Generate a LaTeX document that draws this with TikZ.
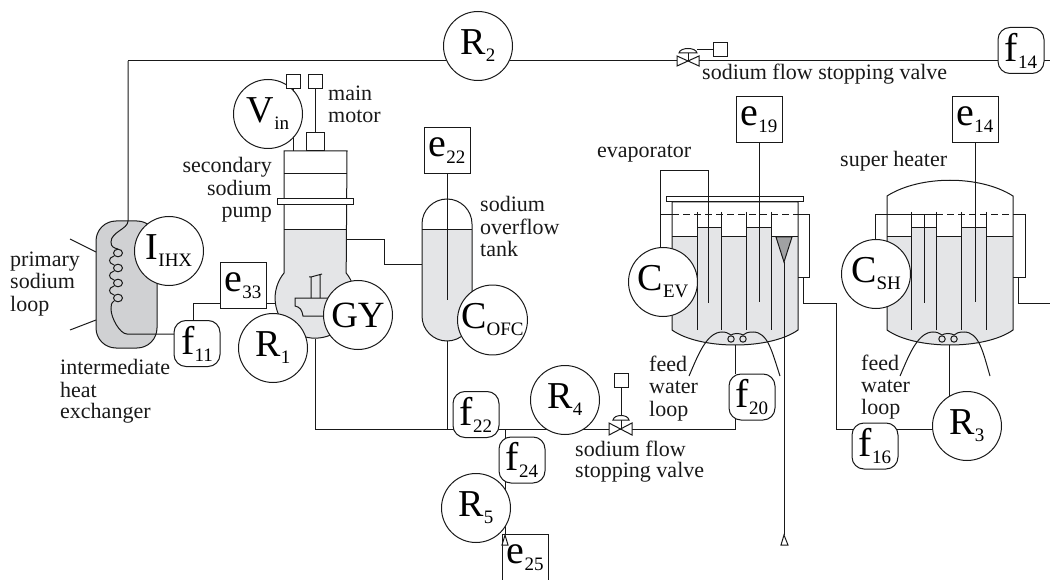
\documentclass[tikz,border=0pt]{standalone}
\usepackage{fontspec}
\setmainfont{Liberation Serif}
\usetikzlibrary{backgrounds}
\definecolor{liq}{RGB}{228,229,231}
\definecolor{ihxgray}{RGB}{208,209,211}
\definecolor{fungray}{RGB}{160,161,163}
\newcommand\lab[2]{{\fontsize{38}{38}\selectfont #1}{\fontsize{19}{19}\selectfont\raisebox{-7pt}{#2}}}
\newcommand\labs[2]{{\fontsize{40}{40}\selectfont #1}{\fontsize{19}{19}\selectfont\raisebox{-7pt}{#2}}}
\tikzset{
  ln/.style={draw=black!90,line width=1pt},
  circ/.style={circle,ln,fill=white,minimum size=69pt,inner sep=0pt},
  ebox/.style={rectangle,ln,fill=white,minimum size=46pt,inner sep=0pt},
  fbox/.style={rectangle,rounded corners=12pt,ln,fill=white,minimum size=46pt,inner sep=0pt},
  sbox/.style={rectangle,ln,fill=white,minimum size=14pt,inner sep=0pt},
  txt/.style={anchor=base west,inner sep=0pt,font=\fontsize{22}{22}\selectfont,text=black!90},
  txr/.style={anchor=base east,inner sep=0pt,font=\fontsize{22}{22}\selectfont,text=black!90},
  dash pipe/.style={ln,dash pattern=on 7pt off 4pt}
}
\begin{document}
\begin{tikzpicture}[x=1pt,y=-1pt]
\useasboundingbox (0,0) rectangle (1050,580);
% instrument nodes
\node[circ] (R2) at (478,46) {\lab{R}{2}};
\node[circ] (Vin) at (268,114) {\lab{V}{in}};
\node[circ] (IIHX) at (169,251) {\lab{I}{IHX}};
\node[circ] (R1) at (273,348) {\lab{R}{1}};
\node[circ] (GY) at (358,315) {{\fontsize{37}{37}\selectfont GY}};
\node[circ] (COFC) at (492.5,320) {\lab{C}{OFC}};
\node[circ] (CEV) at (663,282) {\lab{C}{EV}};
\node[circ] (CSH) at (876,274) {\lab{C}{SH}};
\node[circ] (R3) at (967,426) {\lab{R}{3}};
\node[circ] (R4) at (565,400) {\lab{R}{4}};
\node[circ] (R5) at (476,508) {\lab{R}{5}};
\node[ebox] (e22) at (447,151) {\labs{e}{22}};
\node[ebox] (e19) at (759,120) {\labs{e}{19}};
\node[ebox] (e14) at (975,120) {\labs{e}{14}};
\node[ebox] (e33) at (243,285.5) {\labs{e}{33}};
\node[fbox] (f14) at (1021,50.5) {\labs{f}{14}};
\node[fbox] (f11) at (197,343.5) {\labs{f}{11}};
\node[fbox] (f22) at (476,414.5) {\labs{f}{22}};
\node[fbox] (f24) at (522,460) {\labs{f}{24}};
\node[fbox] (f20) at (752,397) {\labs{f}{20}};
\node[fbox] (f16) at (875,446) {\labs{f}{16}};
\node[sbox] (mA) at (293,82) {};
\node[sbox] (mB) at (315,82) {};
\node[rectangle,ln,fill=white,minimum width=18pt,minimum height=18pt,inner sep=0pt] (motor) at (315,142) {};
\node[sbox] (vTop) at (720,50) {};
\node[sbox] (vBot) at (621,380) {};
% junction coordinates
\coordinate (topc) at (128,61);
\coordinate (ihxin) at (128,221);
\coordinate (rt) at (1050,61);
\coordinate (vt) at (688,61);
\coordinate (vb) at (621,429);
\coordinate (pumpbot) at (315,339);
\coordinate (mainc) at (315,429);
\coordinate (j505) at (505,429);
\coordinate (tankbot) at (447,341);
\coordinate (tankin) at (422,265);
\coordinate (pumpout) at (347,240);
\coordinate (evbot) at (735,345);
\coordinate (shbot) at (949,345);
\coordinate (evout) at (803,278);
\coordinate (shout) at (1018,278);
\coordinate (drain) at (784,535);
\coordinate (funnel) at (784,262);
\coordinate (e25top) at (505,535);
\begin{scope}[on background layer]
  % IHX
  \draw[ln,fill=ihxgray,rounded corners=20pt] (96,221) rectangle (157,348);
  \draw[ln] (70,239) -- (96,252);
  \draw[ln] (70,330) -- (96,320);
  \draw[ln] (128,61) -- (128,221) .. controls (128,229) and (111,232) .. (111,242)
     .. controls (111,247) and (114,248) .. (118,249);
  \foreach \yy in {253,268,283,298} \draw[ln] (118,\yy) ellipse [x radius=4.5pt,y radius=3.8pt];
  \draw[ln] (114,256) .. controls (108,258) and (108,263) .. (114,265);
  \draw[ln] (114,271) .. controls (108,273) and (108,278) .. (114,280);
  \draw[ln] (114,286) .. controls (108,288) and (108,293) .. (114,295);
  \draw[ln] (114,301) .. controls (111,303) and (111,306) .. (111,309)
     .. controls (111,318) and (120,334) .. (127,334) -- (197,334);
  % pump
  \fill[liq] (284,230) -- (284,273) arc[start angle=141,end angle=399,radius=40pt] -- (347,230) -- cycle;
  \draw[ln] (284,151) -- (284,273) arc[start angle=141,end angle=399,radius=40pt] -- (347,151) -- cycle;
  \draw[ln] (284,174) -- (347,174);
  \draw[ln] (284,230) -- (347,230);
  \draw[ln,fill=white] (277,199) rectangle (353,205);
  \draw[ln] (311,298) -- (311,277) -- (309,277) (311,277) -- (322,274) (320,275) -- (320,298);
  \draw[ln] (330,298) -- (295,298) -- (295,306) .. controls (300,307) and (302,310) .. (303,316) -- (335,316);
  \draw[ln] (293,89) -- (293,151);
  \draw[ln] (mB) -- (motor);
  \draw[ln] (pumpout) -- (384,240) -- (384,265) -- (tankin);
  \draw[ln] (pumpbot) -- (mainc) -- (735,429) -- (735,400);
  \draw[ln] (evbot) -- (735,374);
  \draw[ln] (193,334) -- (193,303) -- (220,303);
  \draw[ln] (266,303) -- (276,303);
  % tank
  \begin{scope}
    \clip[rounded corners=25pt] (422,199) rectangle (472,341);
    \fill[liq] (422,230) rectangle (472,341);
  \end{scope}
  \draw[ln,rounded corners=25pt] (422,199) rectangle (472,341);
  \draw[ln] (422,230) -- (472,230);
  \draw[ln] (e22) -- (447,300);
  \draw[ln] (tankbot) -- (447,429);
  \draw[ln] (j505) -- (e25top);
  % top line and valve
  \draw[ln] (topc) -- (rt);
  % evaporator
  \fill[liq] (672,237) -- (697,237) -- (697,228) -- (721,228) -- (721,237) -- (746,237) -- (746,228) -- (771,228) -- (771,237) -- (798,237) -- (798,330) .. controls (770,350) and (700,350) .. (672,330) -- cycle;
  \draw[ln] (672,237) -- (697,237) -- (697,228) -- (721,228) -- (721,237) -- (746,237) -- (746,228) -- (771,228) -- (771,237) -- (798,237);
  \draw[ln] (672,202) -- (672,330) .. controls (700,350) and (770,350) .. (798,330) -- (798,202) -- cycle;
  \draw[ln,fill=white] (666,197) rectangle (803,202);
  \foreach \xx in {697,721,746,771} \draw[ln] (\xx,212) -- (\xx,330);
  \draw[ln] (660,215) -- (672,215);
  \draw[dash pipe] (672,215) -- (798,215);
  \draw[ln] (798,215) -- (809,215) -- (809,278) -- (798,278);
  \draw[ln] (660,215) -- (660,250);
  \draw[ln] (660,215) -- (660,171) -- (708,171) -- (708,303);
  \draw[ln] (e19) -- (759,302);
  \draw[ln,fill=fungray] (776,237) -- (792,237) -- (funnel) -- cycle;
  \draw[ln] (funnel) -- (drain);
  \draw[ln] (evout) -- (803,303) -- (836,303) -- (836,429) -- (967,429);
  % feed loops evaporator
  \draw[ln] (689,376) .. controls (697,358) and (706,332) .. (722,332) .. controls (726,332) and (728,333) .. (731,335)
     (743,335) .. controls (745,333) and (748,332) .. (753,332) .. controls (768,332) and (772,352) .. (780,376);
  \draw[ln] (731,335) .. controls (734,333) and (740,333) .. (743,335);
  \draw[ln] (731,339) circle [radius=3.2pt];
  \draw[ln] (743,339) circle [radius=3.2pt];
  % super heater
  \fill[liq] (887,237) -- (911,237) -- (911,228) -- (936,228) -- (936,237) -- (961,237) -- (961,228) -- (986,228) -- (986,237) -- (1013,237) -- (1013,330) .. controls (985,350) and (915,350) .. (887,330) -- cycle;
  \draw[ln] (887,237) -- (911,237) -- (911,228) -- (936,228) -- (936,237) -- (961,237) -- (961,228) -- (986,228) -- (986,237) -- (1013,237);
  \draw[ln] (887,330) .. controls (915,350) and (985,350) .. (1013,330) -- (1013,196) .. controls (980,175) and (920,175) .. (887,196) -- cycle;
  \foreach \xx in {911,936,961,986} \draw[ln] (\xx,212) -- (\xx,330);
  \draw[ln] (875,240) -- (875,215) -- (936,215);
  \draw[dash pipe] (936,215) -- (1013,215);
  \draw[ln] (1013,215) -- (1025,215) -- (1025,278) -- (1013,278);
  \draw[ln] (924,215) -- (924,303);
  \draw[ln] (e14) -- (975,302);
  \draw[ln] (shout) -- (1018,303) -- (1050,303);
  \draw[ln] (shbot) -- (949,400);
  \draw[ln] (900,376) .. controls (908,358) and (917,332) .. (933,332) .. controls (937,332) and (939,333) .. (942,335)
     (954,335) .. controls (956,333) and (959,332) .. (964,332) .. controls (979,332) and (983,352) .. (990,376);
  \draw[ln] (942,335) .. controls (945,333) and (951,333) .. (954,335);
  \draw[ln] (942,339) circle [radius=3.2pt];
  \draw[ln] (954,339) circle [radius=3.2pt];
\end{scope}
% e25 box, open at the foot of the picture
\node[rectangle,fill=white,minimum width=46pt,minimum height=46pt,inner sep=0pt,anchor=north west] (e25) at (502,534) {\labs{e}{25}};
\draw[ln] (e25.south west) -- (e25.north west) -- (e25.north east) -- (e25.south east);
\draw[ln,fill=white] (e25top) -- (502,545) -- (508,545) -- cycle;
\draw[ln,fill=white] (drain) -- (781,545) -- (788,545) -- cycle;
% top valve
\draw[ln,fill=white] (677,56) -- (699,66) -- (699,56) -- (677,66) -- cycle;
\draw[ln] (vt) -- (688,53);
\draw[ln,fill=white] (679,53) .. controls (680,47) and (696,47) .. (697,53) -- cycle;
\draw[ln] (697,50) -- (vTop);
% bottom valve
\draw[ln,fill=white] (609,423) -- (632,435) -- (632,423) -- (609,435) -- cycle;
\draw[ln] (vb) -- (vBot);
\draw[ln,fill=white] (613,420) .. controls (614,414) and (628,414) .. (629,420) -- cycle;
% text
\node[txt] (t1) at (328,101) {main};
\node[txt] (t2) at (328,123) {motor};
\node[txr] (t3) at (272,173) {secondary};
\node[txr] (t4) at (272,196) {sodium};
\node[txr] (t5) at (272,218) {pump};
\node[txt] (t6) at (10,266) {primary};
\node[txt] (t7) at (10,288) {sodium};
\node[txt] (t8) at (10,311) {loop};
\node[txt] (t9) at (60,374) {intermediate};
\node[txt] (t10) at (60,397) {heat};
\node[txt] (t11) at (60,418) {exchanger};
\node[txt] (t12) at (480,212) {sodium};
\node[txt] (t13) at (480,235) {overflow};
\node[txt] (t14) at (480,257) {tank};
\node[txt] (t15) at (597,158) {evaporator};
\node[txt] (t16) at (840,167) {super heater};
\node[txt] (t17) at (649,371) {feed};
\node[txt] (t18) at (649,393) {water};
\node[txt] (t19) at (649,416) {loop};
\node[txt] (t20) at (861,370) {feed};
\node[txt] (t21) at (861,392) {water};
\node[txt] (t22) at (861,414) {loop};
\node[txt] (t23) at (575,456) {sodium flow};
\node[txt] (t24) at (575,477) {stopping valve};
\node[txt] (t25) at (702,80) {sodium flow stopping valve};
\end{tikzpicture}
\end{document}
